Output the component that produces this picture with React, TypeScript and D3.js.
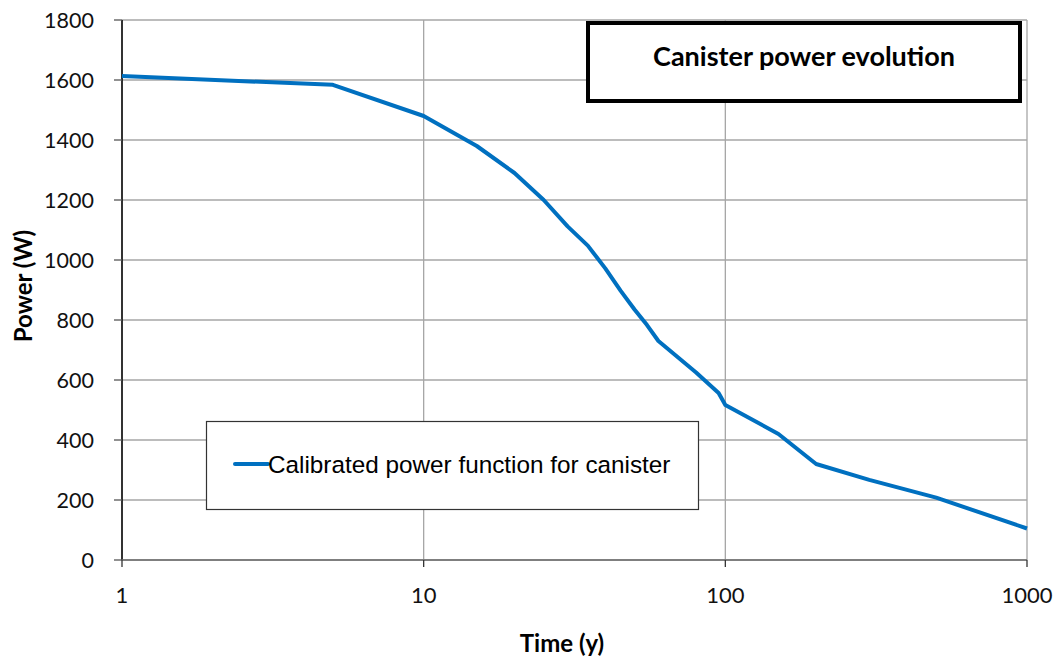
import React from "react";
import * as d3 from "d3";

const years = [1, 5, 10, 15, 20, 25, 30, 35, 40, 45, 50, 55, 60, 80, 95, 100, 150, 200, 300, 500, 1000];
const powerW = [1613, 1584, 1480, 1380, 1290, 1200, 1112, 1048, 972, 897, 835, 783, 730, 625, 557, 517, 420, 320, 267, 208, 105];
const yTicks = [0, 200, 400, 600, 800, 1000, 1200, 1400, 1600, 1800];
const xTicks = [1, 10, 100, 1000];
const seriesName = "Calibrated power function for canister";
const titleText = "Canister power evolution";

export default function App() {
  const W = 1062, H = 664;
  const left = 122, right = 1027, top = 20, bottom = 560;
  const x = d3.scaleLog().domain([1, 1000]).range([left, right]);
  const y = d3.scaleLinear().domain([0, 1800]).range([bottom, top]);
  const line = d3.line<number>()
    .x((_, i) => x(years[i]))
    .y((d) => y(d));
  const grid = "#a6a6a6";
  return (
    <svg width={W} height={H} style={{ position: "absolute", left: 0, top: 0, background: "#fff" }}>
      {yTicks.map((t) => (
        <line key={"hg" + t} x1={left} x2={right} y1={y(t)} y2={y(t)} stroke={grid} strokeWidth={1.3} />
      ))}
      {xTicks.map((t) => (
        <line key={"vg" + t} x1={x(t)} x2={x(t)} y1={top} y2={bottom} stroke={grid} strokeWidth={1.3} />
      ))}
      <line x1={left} x2={left} y1={top} y2={bottom} stroke="#000" strokeWidth={1.5} />
      <line x1={left} x2={right} y1={bottom} y2={bottom} stroke="#6b6b6b" strokeWidth={1.5} />
      {yTicks.map((t) => (
        <g key={"yt" + t}>
          <line x1={left - 8} x2={left} y1={y(t)} y2={y(t)} stroke="#555" strokeWidth={1.3} />
          <text x={94} y={y(t)} dy="0.36em" textAnchor="end" fontFamily="Lato" fontSize={21.5} fill="#111">
            {t}
          </text>
        </g>
      ))}
      {xTicks.map((t) => (
        <g key={"xt" + t}>
          <line x1={x(t)} x2={x(t)} y1={bottom} y2={bottom + 7} stroke="#333" strokeWidth={1.3} />
          <text x={x(t)} y={603} textAnchor="middle" fontFamily="Lato" fontSize={22} fill="#111">
            {t}
          </text>
        </g>
      ))}
      <text x={562} y={652} textAnchor="middle" fontFamily="Lato" fontWeight="bold" fontSize={24} fill="#000">
        Time (y)
      </text>
      <text transform="translate(32,286) rotate(-90)" textAnchor="middle" fontFamily="Lato" fontWeight="bold" fontSize={24} fill="#000">
        Power (W)
      </text>
      <path d={line(powerW) || ""} fill="none" stroke="#0070c0" strokeWidth={4} strokeLinejoin="round" />
      <rect x={588} y={23} width={432} height={78} fill="#fff" stroke="#000" strokeWidth={4} />
      <text x={804} y={66} textAnchor="middle" fontFamily="Lato" fontWeight="bold" fontSize={27} fill="#000">
        {titleText}
      </text>
      <rect x={206.5} y={421.5} width={492} height={88} fill="#fff" stroke="#333" strokeWidth={1.2} />
      <line x1={235} x2={268} y1={464} y2={464} stroke="#0070c0" strokeWidth={4} strokeLinecap="round" />
      <text x={268} y={472.5} fontFamily="Liberation Sans" fontSize={24.3} fill="#000">
        {seriesName}
      </text>
    </svg>
  );
}
